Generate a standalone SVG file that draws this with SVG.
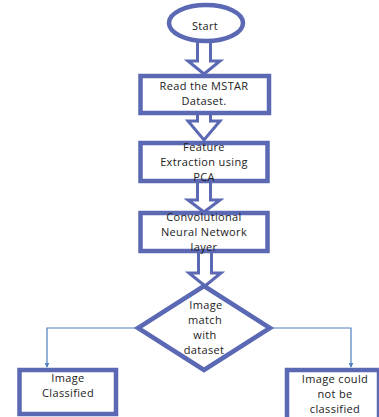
<svg xmlns="http://www.w3.org/2000/svg" width="379" height="417" viewBox="0 0 379 417">
<style>
.n{fill:#fff;stroke:#5b68b3;stroke-width:4.5}
.a{fill:#fff;stroke:#5b68b3;stroke-width:3;stroke-linejoin:miter}
.c{fill:none;stroke:#4f7fc0;stroke-width:1.2}
text{font-family:"Open Sans","Liberation Sans",sans-serif;font-size:11px;letter-spacing:0.35px;fill:#222;text-anchor:middle}
</style>
<defs>
<marker id="m" viewBox="0 0 6 6" refX="5" refY="3" markerWidth="5" markerHeight="5" orient="auto" markerUnits="userSpaceOnUse">
<path d="M0,0 L6,3 L0,6 Z" fill="#4f7fc0"/>
</marker>
</defs>
<rect width="379" height="417" fill="#fff"/>
<g id="connectors">
<polygon class="a" points="197.5,40 210.5,40 210.5,61 220,61 204,74 188,61 197.5,61"/>
<polygon class="a" points="197.5,113 210.5,113 210.5,121 220,121 204,140 188,121 197.5,121"/>
<polygon class="a" points="197.5,181 210.5,181 210.5,200 220,200 204,212 188,200 197.5,200"/>
<polygon class="a" points="198.5,251 211.5,251 211.5,273 221,273 205,286 189,273 198.5,273"/>
<polyline class="c" points="138,328 47,328 47,367" marker-end="url(#m)"/>
<polyline class="c" points="270,328 351,328 351,367" marker-end="url(#m)"/>
</g>
<g id="start">
<ellipse class="n" cx="206" cy="23" rx="37" ry="18" stroke-width="4"/>
<text x="205" y="30">Start</text>
</g>
<g id="read">
<rect class="n" x="140.5" y="76" width="128.5" height="37"/>
<text x="204" y="90">Read the MSTAR<tspan x="204" dy="15">Dataset.</tspan></text>
</g>
<g id="pca">
<rect class="n" x="140.5" y="143" width="127" height="38"/>
<text x="204" y="151">Feature<tspan x="204" dy="15">Extraction using</tspan><tspan x="204" dy="15">PCA</tspan></text>
</g>
<g id="cnn">
<rect class="n" x="140.5" y="213" width="127" height="38"/>
<text x="204" y="221">Convolutional<tspan x="204" dy="15">Neural Network</tspan><tspan x="204" dy="15">layer</tspan></text>
</g>
<g id="decision">
<polygon class="n" points="204,286 270,328 204,370 138,328"/>
<text x="206" y="309">Image<tspan x="205" dy="15">match</tspan><tspan x="205" dy="15">with</tspan><tspan x="204" dy="15">dataset</tspan></text>
</g>
<g id="classified">
<rect class="n" x="19.5" y="370" width="96.5" height="44" stroke-width="5"/>
<text x="68" y="382">Image<tspan x="68" dy="15">Classified</tspan></text>
</g>
<g id="notclassified">
<rect class="n" x="287" y="370" width="92" height="50" stroke-width="3.5"/>
<text x="335" y="383">Image could<tspan x="335" dy="15">not be</tspan><tspan x="335" dy="15">classified</tspan></text>
</g>
</svg>
